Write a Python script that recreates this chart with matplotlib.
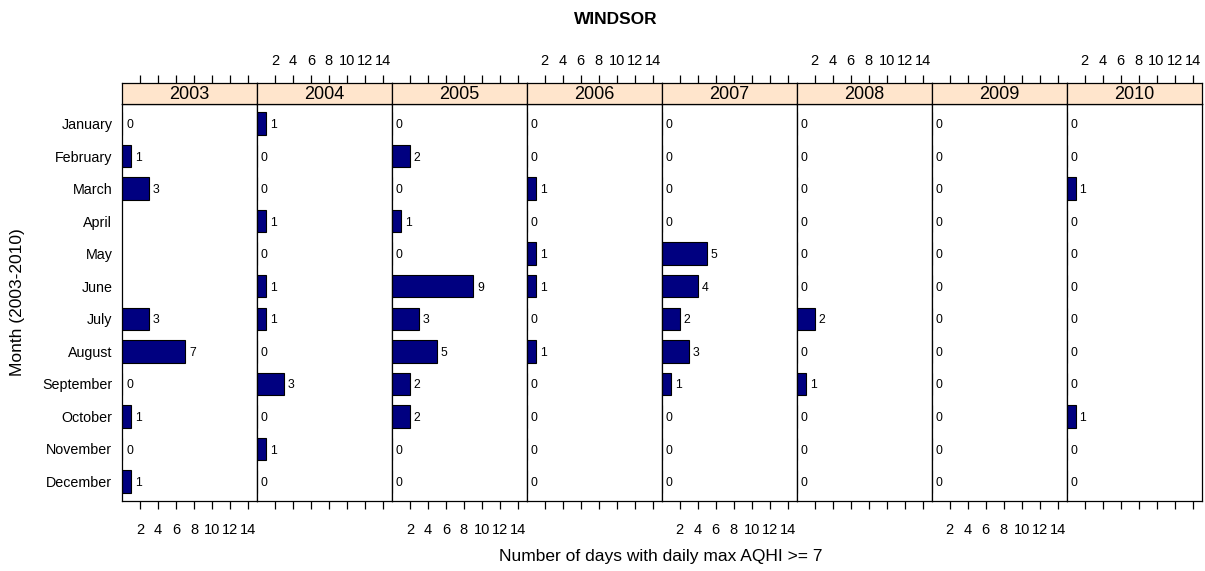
import numpy as np
import matplotlib
matplotlib.use("Agg")
import matplotlib.pyplot as plt

plt.rcParams["font.family"] = ["Liberation Sans", "DejaVu Sans"]

MONTHS = ["January", "February", "March", "April", "May", "June", "July",
          "August", "September", "October", "November", "December"]
YEARS = ["2003", "2004", "2005", "2006", "2007", "2008", "2009", "2010"]

nan = np.nan
DAYS_2003 = [0, 1, 3, nan, nan, nan, 3, 7, 0, 1, 0, 1]
DAYS_2004 = [1, 0, 0, 1, 0, 1, 1, 0, 3, 0, 1, 0]
DAYS_2005 = [0, 2, 0, 1, 0, 9, 3, 5, 2, 2, 0, 0]
DAYS_2006 = [0, 0, 1, 0, 1, 1, 0, 1, 0, 0, 0, 0]
DAYS_2007 = [0, 0, 0, 0, 5, 4, 2, 3, 1, 0, 0, 0]
DAYS_2008 = [0, 0, 0, 0, 0, 0, 2, 0, 1, 0, 0, 0]
DAYS_2009 = [0, 0, 0, 0, 0, 0, 0, 0, 0, 0, 0, 0]
DAYS_2010 = [0, 0, 1, 0, 0, 0, 0, 0, 0, 1, 0, 0]
DAYS = [DAYS_2003, DAYS_2004, DAYS_2005, DAYS_2006,
        DAYS_2007, DAYS_2008, DAYS_2009, DAYS_2010]

XTICKS = [2, 4, 6, 8, 10, 12, 14]

BAR_COLOR = "#000080"
STRIP_COLOR = "#FFE5CC"

# layout in pixels
W, H = 1205, 571
LEFT, RIGHT = 122, 1201.5
BODY_TOP, BODY_BOTTOM = 104, 501
STRIP_TOP = 83

fig = plt.figure(figsize=(W / 100, H / 100), dpi=100)
panel_w = (RIGHT - LEFT) / len(YEARS)
ypos = np.arange(len(MONTHS))

for i, (year, days) in enumerate(zip(YEARS, DAYS)):
    x0 = LEFT + i * panel_w
    ax = fig.add_axes([x0 / W, 1 - BODY_BOTTOM / H, panel_w / W,
                       (BODY_BOTTOM - BODY_TOP) / H])
    sx = fig.add_axes([x0 / W, 1 - BODY_TOP / H, panel_w / W,
                       (BODY_TOP - STRIP_TOP) / H], sharex=ax)

    vals = np.array(days, dtype=float)
    ax.barh(ypos, vals, height=0.69, color=BAR_COLOR, edgecolor="black",
            linewidth=0.8)
    for y, v in zip(ypos, vals):
        if not np.isnan(v):
            ax.text(v + 0.45, y + 0.05, f"{int(v)}", ha="left", va="center",
                    fontsize=8.8)

    ax.set_xlim(0, 15)
    ax.set_ylim(len(MONTHS) - 0.4, -0.6)
    ax.set_xticks(XTICKS)
    ax.tick_params(axis="x", direction="out", length=5.5, width=0.9,
                   bottom=True, top=False, labelbottom=(i % 2 == 0),
                   labelsize=10.5, pad=10)
    if i == 0:
        ax.set_yticks(ypos)
        ax.set_yticklabels(MONTHS)
        ax.tick_params(axis="y", length=0, labelsize=10.3, pad=7)
    else:
        ax.set_yticks([])
    for sp in ax.spines.values():
        sp.set_linewidth(0.9)

    sx.set_facecolor(STRIP_COLOR)
    sx.set_yticks([])
    sx.tick_params(axis="x", direction="out", length=5.5, width=0.9,
                   bottom=False, labelbottom=False, top=True,
                   labeltop=(i % 2 == 1), labelsize=10.5, pad=5)
    sx.text(0.5, 0.45, year, transform=sx.transAxes, ha="center",
            va="center", fontsize=13)
    for sp in sx.spines.values():
        sp.set_linewidth(0.9)

fig.text(616 / W, 1 - 20 / H, "WINDSOR", ha="center", va="center",
         fontsize=12.5, fontweight="bold")
fig.text(661 / W, 1 - 557 / H, "Number of days with daily max AQHI >= 7",
         ha="center", va="center", fontsize=12.5)
fig.text(18 / W, 1 - 302 / H, "Month (2003-2010)", ha="center", va="center",
         rotation=90, fontsize=12.5)

fig.savefig("out.png", dpi=100)
